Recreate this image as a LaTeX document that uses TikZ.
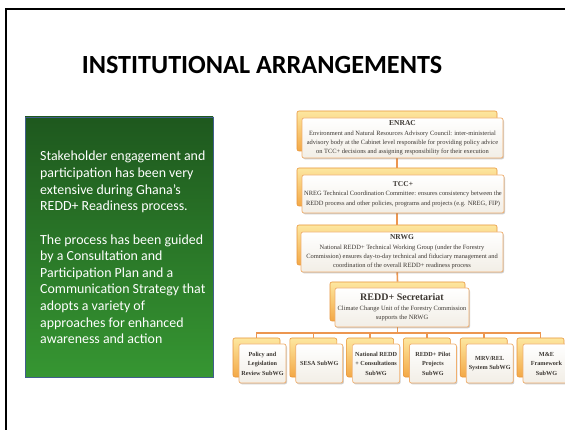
\documentclass[tikz,border=0pt]{standalone}
\usepackage{fontspec}
\setmainfont{Carlito}
\newfontfamily\chartfont{Liberation Serif}
\usetikzlibrary{shadows,calc}
\definecolor{greentop}{RGB}{30,88,30}
\definecolor{greenbot}{RGB}{54,150,50}
\definecolor{greenedge}{RGB}{65,95,140}
\definecolor{bktop}{RGB}{253,231,160}
\definecolor{bkbot}{RGB}{243,168,70}
\definecolor{bkedge}{RGB}{232,150,60}
\definecolor{frontedge}{RGB}{240,175,110}
\definecolor{frontbot}{RGB}{242,238,230}
\definecolor{linkcol}{RGB}{236,150,80}
\definecolor{charttext}{RGB}{60,55,50}
\tikzset{
  backbox/.style={rectangle, rounded corners=2pt, draw=bkedge, line width=0.6pt,
    top color=bktop, bottom color=bkbot, inner sep=0pt},
  frontbox/.style={rectangle, rounded corners=2pt, draw=frontedge, line width=0.7pt,
    top color=white, bottom color=frontbot,
    drop shadow={shadow xshift=1pt, shadow yshift=-1.3pt, opacity=0.35, fill=black!55},
    inner sep=1pt, align=center, text=charttext,
    font=\chartfont\fontsize{6.45}{9.3}\selectfont},
  subfront/.style={frontbox, minimum width=47pt, minimum height=39pt,
    font=\chartfont\bfseries\fontsize{6.2}{9.5}\selectfont},
  subback/.style={backbox, minimum width=47pt, minimum height=39pt},
  link/.style={draw=linkcol, line width=1.6pt}
}
\begin{document}
\begin{tikzpicture}[x=1pt,y=-1pt]
\useasboundingbox (0,0) rectangle (565,430);
\fill[white] (0,0) rectangle (565,430);
% frame
\draw[line width=2.2pt] (6,432) -- (6,9) -- (567,9);
% title
\node[font=\bfseries\fontsize{26.2}{30}\selectfont] (title) at (262,65) {INSTITUTIONAL ARRANGEMENTS};
% green panel
\node[rectangle, draw=greenedge, line width=0.8pt, top color=greentop, bottom color=greenbot,
  minimum width=188pt, minimum height=260pt, inner sep=0pt] (panel) at (119,247) {};
\node[anchor=north west, inner sep=0pt, align=left, text=white,
  font=\fontsize{13.9}{16.6}\selectfont] (paneltext) at (40,151) {%
Stakeholder engagement and\\
participation has been very\\
extensive during Ghana’s\\
REDD+ Readiness process.\\[16.9pt]
The process has been guided\\
by a Consultation and\\
Participation Plan and a\\
Communication Strategy that\\
adopts a variety of\\
approaches for enhanced\\
awareness and action};
% back boxes
\node[backbox, minimum width=200pt, minimum height=40pt] (enracB) at (397,131) {};
\node[backbox, minimum width=200pt, minimum height=38pt] (tccB) at (397,187) {};
\node[backbox, minimum width=200pt, minimum height=40pt] (nrwgB) at (397,245) {};
\node[backbox, minimum width=135pt, minimum height=39pt] (secB) at (397.5,301.5) {};
\foreach \i/\x in {1/256.5,2/313.3,3/370.1,4/426.9,5/483.7,6/540.5}{
  \node[subback] (sub\i B) at (\x,357.5) {};
}
% connectors
\draw[link] (enracB.south) -- (tccB.north);
\draw[link] (tccB.south) -- (nrwgB.north);
\draw[link] (nrwgB.south) -- (secB.north);
\draw[link] (secB.south) -- ++(0,12) coordinate (bus);
\foreach \i in {1,...,6}{
  \draw[link] (bus) -| (sub\i B.north);
}
% front boxes
\node[frontbox, minimum width=201pt, minimum height=40pt] (enrac) at (402.5,138) {%
{\bfseries\fontsize{7.5}{9.3}\selectfont ENRAC}\\
Environment and Natural Resources Advisory Council: inter-ministerial\\
advisory body at the Cabinet level responsible for providing policy advice\\
on TCC+ decisions and assigning responsibility for their execution};
\node[frontbox, minimum width=202pt, minimum height=38pt] (tcc) at (403,194) {%
{\bfseries\fontsize{7.5}{9.3}\selectfont TCC+}\\
NREG Technical Coordination Committee: ensures consistency between the\\
REDD process and other policies, programs and projects (e.g. NREG, FIP)};
\node[frontbox, minimum width=202pt, minimum height=40pt] (nrwg) at (402,252) {%
{\bfseries\fontsize{7.5}{9.3}\selectfont NRWG}\\
National REDD+ Technical Working Group (under the Forestry\\
Commission) ensures day-to-day technical and fiduciary management and\\
coordination of the overall REDD+ readiness process};
\node[frontbox, minimum width=134pt, minimum height=39pt] (sec) at (402,307.5) {%
{\bfseries\fontsize{10}{9}\selectfont REDD+ Secretariat}\\
Climate Change Unit of the Forestry Commission\\
supports the NRWG};
\node[subfront] (sub1) at (262.5,363.5) {Policy and\\Legislation\\Review SubWG};
\node[subfront] (sub2) at (319.3,363.5) {SESA SubWG};
\node[subfront] (sub3) at (376.1,363.5) {National REDD\\+ Consultations\\SubWG};
\node[subfront] (sub4) at (432.9,363.5) {REDD+ Pilot\\Projects\\SubWG};
\node[subfront] (sub5) at (489.7,363.5) {MRV/REL\\System SubWG};
\node[subfront] (sub6) at (546.5,363.5) {M\&E\\Framework\\SubWG};
\end{tikzpicture}
\end{document}
